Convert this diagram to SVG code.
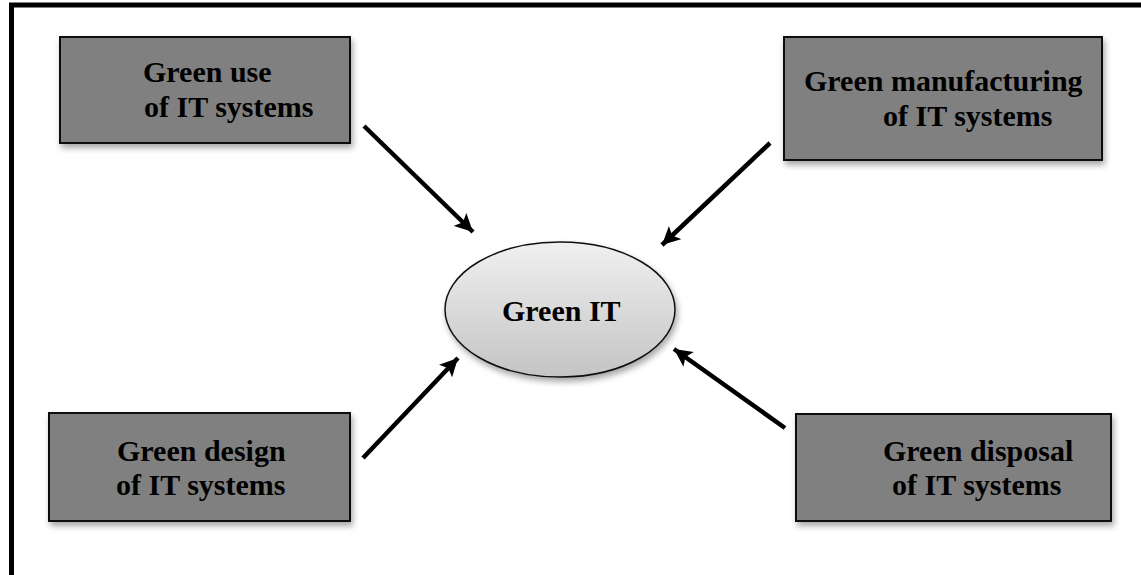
<svg xmlns="http://www.w3.org/2000/svg" width="1141" height="575" viewBox="0 0 1141 575">
<style>
.box{fill:#808080;stroke:#111;stroke-width:2;filter:url(#sh)}
.lbl{font-family:"Liberation Serif","Times New Roman",serif;font-weight:bold;font-size:30px;fill:#000}
.con{stroke:#000;stroke-width:4.5;fill:none;marker-end:url(#ah)}
</style>
<defs>
<filter id="sh" x="-10%" y="-10%" width="130%" height="140%">
<feDropShadow dx="2" dy="4" stdDeviation="3" flood-color="#000" flood-opacity="0.35"/>
</filter>
<linearGradient id="eg" x1="0" y1="0" x2="0" y2="1">
<stop offset="0" stop-color="#f0f0f0"/>
<stop offset="1" stop-color="#c4c4c4"/>
</linearGradient>
<marker id="ah" markerUnits="userSpaceOnUse" markerWidth="20" markerHeight="18" refX="18" refY="9" orient="auto" viewBox="0 0 20 18">
<path d="M0,0 L18,9 L0,18 L4,9 Z" fill="#000"/>
</marker>
</defs>
<rect x="0" y="0" width="1141" height="575" fill="#fff"/>
<path d="M11.5,580 L11.5,5 L1146,5" fill="none" stroke="#000" stroke-width="5"/>
<g id="connectors">
<line class="con" x1="364" y1="126" x2="473" y2="232"/>
<line class="con" x1="770" y1="143" x2="662" y2="245"/>
<line class="con" x1="363" y1="458" x2="458" y2="358"/>
<line class="con" x1="785" y1="428" x2="674" y2="349"/>
</g>
<g id="use">
<rect class="box" x="60" y="37" width="290" height="106"/>
<text class="lbl" x="143" y="82">Green use</text>
<text class="lbl" x="144" y="117">of IT systems</text>
</g>
<g id="manufacturing">
<rect class="box" x="784" y="37" width="318" height="123"/>
<text class="lbl" x="804" y="91">Green manufacturing</text>
<text class="lbl" x="883" y="126">of IT systems</text>
</g>
<g id="design">
<rect class="box" x="49" y="413" width="301" height="108"/>
<text class="lbl" x="117" y="461">Green design</text>
<text class="lbl" x="116" y="495">of IT systems</text>
</g>
<g id="disposal">
<rect class="box" x="796" y="414" width="315" height="107"/>
<text class="lbl" x="883" y="461">Green disposal</text>
<text class="lbl" x="892" y="495">of IT systems</text>
</g>
<g id="greenit">
<ellipse cx="560" cy="309.5" rx="115" ry="67.5" fill="url(#eg)" stroke="#111" stroke-width="1.5" filter="url(#sh)"/>
<text class="lbl" x="502" y="321">Green IT</text>
</g>
</svg>
